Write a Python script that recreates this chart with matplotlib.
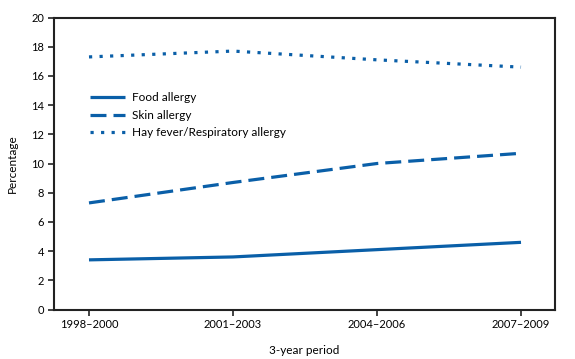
import numpy as np
import matplotlib.pyplot as plt

plt.rcParams['font.family'] = ['Lato', 'DejaVu Sans']

periods = ["1998\u20132000", "2001\u20132003", "2004\u20132006", "2007\u20132009"]
food = [3.4, 3.6, 4.1, 4.6]
skin = [7.3, 8.7, 10.0, 10.7]
hay = [17.3, 17.7, 17.1, 16.6]

blue = '#0a5fa8'

fig = plt.figure(figsize=(5.75, 3.59), dpi=100)
ax = fig.add_axes([54/575, 1 - 309.5/359, (555-54)/575, (309.5-17.5)/359])

x = np.arange(len(periods))
ax.plot(x, food, color=blue, lw=2.3, solid_capstyle='butt', label='Food allergy')
ax.plot(x, skin, color=blue, lw=2.3, dashes=(5, 2.2), label='Skin allergy')
ax.plot(x, hay, color=blue, lw=2.3, dashes=(1, 2.3), label='Hay fever/Respiratory allergy')

ax.set_xlim(-0.243, 3.236)
ax.set_ylim(0, 20)
ax.set_yticks(range(0, 21, 2))
ax.set_xticks(x)
ax.set_xticklabels(periods)
ax.tick_params(direction='out', length=4, width=1.2, labelsize=8, color='#222222', pad=3)
for s in ax.spines.values():
    s.set_linewidth(1.5)
    s.set_color('#222222')

ax.set_ylabel('Percentage', fontsize=8.5, labelpad=10)
ax.set_xlabel('3-year period', fontsize=8.5, labelpad=11)

ax.legend(loc='upper left', bbox_to_anchor=(0.05, 0.78), frameon=False, fontsize=8.5,
          handlelength=3.0, handletextpad=0.6, labelspacing=0.55)

fig.savefig('out.png', dpi=100)
